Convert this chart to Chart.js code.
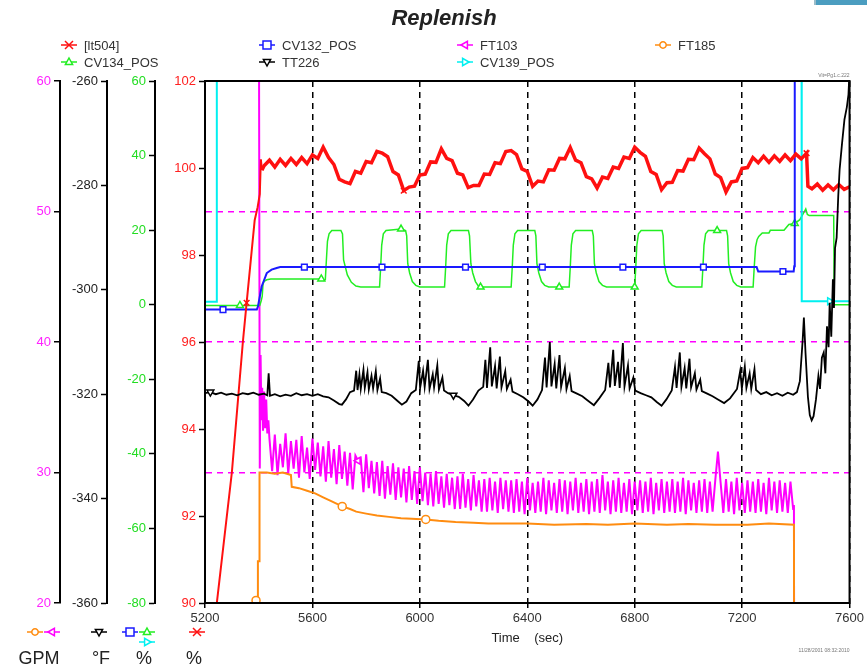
<!DOCTYPE html>
<html>
<head>
<meta charset="utf-8">
<title>Replenish</title>
<script src="https://cdn.jsdelivr.net/npm/chart.js@4.4.1/dist/chart.umd.min.js"></script>
<style>
  html, body { margin: 0; padding: 0; background: #fff; }
  #wrap { position: relative; width: 867px; height: 672px; overflow: hidden; }
  #corner { position: absolute; left: 814px; top: 0; width: 53px; height: 5px; background: #4b9dc0; border-left: 2px solid #9bbcc9; }
</style>
</head>
<body>
<div id="wrap">
  <canvas id="myChart" width="867" height="672"></canvas>
  <div id="corner"></div>
</div>
<script>
// x axis (sec)
const timeMin = 5200;
const timeMax = 7600;
const timeStep = 400;

// [lt504] (%) - ramp up, then samples every 20 s, then the drop at the end
const lt504HeadTime = [5200, 5244, 5300, 5341, 5355, 5385, 5396, 5404, 5408, 5412];
const lt504HeadValue = [87.6, 90.0, 93.0, 96.0, 96.9, 98.8, 99.1, 99.4, 100.2, 99.95];
const lt504SampleStart = 5420;
const lt504SampleStep = 20;
const lt504Samples = [
  100.05, 100.18, 100.02, 100.20, 100.06, 100.22, 100.08, 100.24, 100.10, 100.30,
  100.22, 100.48, 100.24, 100.08, 99.74, 99.68, 99.64, 99.92, 99.88, 100.15,
  100.12, 100.38, 100.34, 100.26, 99.92, 99.84, 99.48, 99.56, 99.58, 99.84,
  99.86, 100.14, 100.13, 100.44, 100.22, 100.17, 99.88, 99.84, 99.55, 99.60,
  99.60, 99.86, 99.85, 100.12, 100.10, 100.38, 100.40, 100.31, 99.98, 99.92,
  99.58, 99.70, 99.68, 99.96, 99.95, 100.22, 100.21, 100.47, 100.18, 100.12,
  99.80, 99.75, 99.54, 99.79, 99.76, 100.02, 99.99, 100.25, 100.22, 100.48,
  100.36, 100.27, 99.92, 99.85, 99.50, 99.66, 99.67, 99.94, 99.93, 100.20,
  100.19, 100.46, 100.33, 100.21, 99.86, 99.78, 99.45, 99.68, 99.70, 99.99,
  100.01, 100.24, 100.12, 100.27, 100.13, 100.28, 100.15, 100.30, 100.17, 100.32,
  100.21, 100.34
];
const lt504TailTime = [7445, 7460, 7480, 7500, 7520, 7540, 7560, 7580, 7600];
const lt504TailValue = [99.58, 99.52, 99.63, 99.49, 99.61, 99.50, 99.62, 99.51, 99.57];
const lt504Marks = [5355, 5940, 7440];
const lt504RampEnd = 5412;

// CV132_POS (%)
const cv132Time = [5200, 5267, 5393, 5397, 5411, 5430, 5448, 5467, 5480, 5570, 5859, 6170, 6456, 6756, 7056, 7254, 7260, 7352, 7392, 7394, 7396, 7600];
const cv132Value = [-1.3, -1.3, -1.3, -0.5, 4.9, 8.5, 9.4, 9.85, 10.1, 10.1, 10.1, 10.1, 10.1, 10.1, 10.1, 10.1, 8.9, 8.9, 8.9, 10.3, 110, 110];
const cv132Marks = [5267, 5570, 5859, 6170, 6456, 6756, 7056, 7352];

// FT103 (GPM) - start, samples every 10 s, end
const ft103HeadTime = [5400, 5404, 5407, 5410, 5413, 5416, 5420, 5424, 5428, 5432, 5436];
const ft103HeadValue = [75, 30.3, 39.0, 34.0, 36.5, 33.2, 36.2, 33.4, 35.6, 33.0, 34.0];
const ft103SampleStart = 5440;
const ft103SampleStep = 10;
const ft103Samples = [
  32.6, 30.1, 32.9, 29.8, 32.2, 30.4, 33.0, 29.9, 32.4, 30.3,
  32.5, 29.6, 32.8, 30.0, 31.9, 29.5, 32.6, 30.2, 32.3, 29.7,
  32.0, 29.3, 32.4, 29.6, 31.8, 29.1, 32.1, 29.5, 31.6, 29.0,
  31.5, 28.7, 31.3, 30.9, 31.1, 28.5, 31.4, 28.8, 30.9, 28.4,
  30.8, 28.2, 30.9, 28.0, 30.5, 28.3, 30.7, 27.9, 30.4, 28.1,
  30.3, 27.7, 30.5, 27.9, 30.1, 27.6, 30.4, 27.8, 30.0, 27.5,
  29.9, 27.4, 30.1, 27.6, 29.7, 27.3, 29.9, 27.5, 29.6, 27.2,
  29.7, 27.2, 29.9, 27.3, 29.5, 27.1, 29.8, 27.4, 29.4, 27.0,
  29.5, 27.0, 29.6, 27.1, 29.3, 26.9, 29.6, 27.2, 29.4, 27.0,
  29.4, 26.9, 29.5, 27.0, 29.3, 26.8, 29.6, 27.1, 29.2, 26.9,
  29.3, 27.0, 29.6, 26.8, 29.4, 27.1, 29.2, 26.9, 29.5, 27.0,
  29.4, 26.8, 29.3, 27.1, 29.6, 26.9, 29.2, 27.0, 29.5, 26.8,
  29.3, 27.0, 29.5, 26.9, 29.8, 27.1, 29.3, 26.8, 29.4, 27.0,
  29.6, 26.9, 29.2, 27.0, 29.5, 26.8, 29.3, 27.1, 29.4, 26.9,
  29.3, 27.0, 29.6, 26.8, 29.2, 27.1, 29.5, 26.9, 29.3, 27.0,
  29.5, 26.9, 29.3, 27.0, 29.6, 26.8, 29.4, 27.1, 29.2, 26.9,
  29.4, 27.0, 29.5, 26.9, 29.3, 27.0, 29.4, 31.6, 29.2, 26.9,
  29.5, 27.0, 29.3, 26.8, 29.6, 27.1, 29.2, 26.9, 29.4, 27.0,
  29.3, 26.9, 29.5, 27.0, 29.2, 26.8, 29.6, 27.1, 29.3, 26.9,
  29.4, 27.0, 29.2, 26.9, 29.3, 27.2
];
const ft103TailTime = [7393, 7394];
const ft103TailValue = [27.5, 10];
const ft103Marks = [5770];

// FT185 (GPM)
const ft185Time = [5390, 5396, 5397, 5402, 5403, 5430, 5460, 5490, 5520, 5523, 5550, 5580, 5610, 5640, 5670, 5711, 5740, 5763, 5800, 5840,
  5885, 5930, 5970, 6022, 6070, 6133, 6200, 6255, 6320, 6400, 6500, 6620, 6700, 6800, 6920, 7000, 7100, 7220, 7300, 7393, 7394];
const ft185Value = [20.2, 20.3, 23.2, 23.2, 30.0, 30.0, 29.9, 30.0, 29.8, 28.9, 28.8, 28.6, 28.4, 28.1, 27.8, 27.4, 27.2, 27.0, 26.85, 26.7,
  26.6, 26.5, 26.45, 26.4, 26.3, 26.2, 26.15, 26.1, 26.1, 26.1, 26.0, 26.05, 26.0, 26.1, 26.0, 26.05, 26.0, 26.0, 26.1, 26.0, 10];
const ft185Marks = [5390, 5711, 6022];

// CV134_POS (%)
const cv134Time = [
  5200, 5330, 5404, 5409, 5413, 5416, 5420, 5430, 5445, 5626, 5633, 5640, 5648,
  5652, 5656, 5662, 5672, 5706, 5712, 5716, 5722, 5730, 5745, 5762, 5780, 5850,
  5854, 5858, 5864, 5874, 5930, 5947, 5951, 5955, 5962, 5972, 5985, 6000, 6092,
  6096, 6100, 6106, 6116, 6181, 6185, 6190, 6197, 6207, 6218, 6226, 6340,
  6344, 6348, 6354, 6364, 6428, 6432, 6436, 6443, 6453, 6465, 6480, 6519, 6556,
  6560, 6564, 6570, 6580, 6642, 6646, 6650, 6657, 6667, 6680, 6695, 6800,
  6804, 6808, 6814, 6824, 6902, 6906, 6910, 6917, 6927, 6940, 6955, 7050,
  7054, 7058, 7064, 7074, 7107, 7142, 7146, 7150, 7157, 7167, 7180, 7195, 7241,
  7245, 7250, 7256, 7262, 7275, 7300, 7305, 7356, 7374, 7396, 7415, 7429, 7437, 7443, 7450, 7541, 7543, 7600
];
const cv134Value = [
  -0.2, -0.2, -0.2, 1.0, 2.2, 5.5, 6.3, 6.7, 6.9, 6.9, 6.9, 6.5, 6.7,
  12.0, 17.0, 19.0, 19.9, 19.9, 19.0, 12.0, 10.3, 8.0, 6.0, 5.0, 4.75, 4.75,
  10.0, 16.0, 19.0, 19.9, 20.3, 19.9, 18.5, 11.0, 8.5, 6.2, 5.2, 4.75, 4.75,
  10.0, 16.0, 19.0, 19.9, 19.9, 18.5, 11.0, 8.5, 6.2, 5.0, 4.75, 4.75,
  10.0, 16.0, 19.0, 19.9, 19.9, 18.5, 11.0, 8.5, 6.2, 5.2, 4.75, 4.75, 4.75,
  10.0, 16.0, 19.0, 19.9, 19.9, 18.5, 11.0, 8.5, 6.2, 5.2, 4.75, 4.75,
  10.0, 16.0, 19.0, 19.9, 19.9, 18.5, 11.0, 8.5, 6.2, 5.2, 4.75, 4.75,
  10.0, 16.0, 19.0, 19.9, 19.9, 19.9, 18.5, 11.0, 8.5, 6.2, 5.2, 4.75, 4.75,
  10.0, 15.5, 17.5, 18.3, 19.25, 19.25, 19.95, 19.95, 21.5, 21.8, 22.8, 24.6, 25.7, 24.2, 23.9, 23.9, 0.0, 0.0
];
const cv134Marks = [5330, 5633, 5930, 6226, 6519, 6800, 7107, 7396];

// TT226 (°F)
const tt226Time = [
  5200, 5220, 5240, 5260, 5280, 5300, 5320, 5340, 5360, 5380, 5400, 5420,
  5432, 5437, 5442, 5460, 5480, 5500, 5520, 5540, 5560, 5580, 5600, 5620, 5640, 5660, 5680, 5700, 5710, 5725, 5740, 5755,
  5763, 5768, 5775, 5780, 5790, 5795, 5805, 5810, 5820, 5826, 5836, 5842, 5852, 5858,
  5875, 5895, 5915, 5933, 5950, 5968, 5985,
  5996, 6001, 6012, 6018, 6030, 6036, 6048, 6053, 6065, 6071, 6084, 6090,
  6105, 6125, 6145, 6165, 6181, 6198, 6218,
  6236, 6244, 6250, 6262, 6268, 6280, 6286, 6298, 6304, 6318, 6324, 6338, 6345,
  6365, 6385, 6405, 6420, 6438, 6455,
  6466, 6472, 6484, 6490, 6502, 6508, 6520, 6526, 6540, 6546, 6558, 6565,
  6585, 6605, 6625, 6648, 6668, 6690,
  6702, 6708, 6720, 6726, 6738, 6744, 6756, 6762, 6775, 6781, 6795, 6802,
  6822, 6842, 6862, 6882, 6900, 6918, 6938,
  6950, 6956, 6968, 6974, 6986, 6992, 7004, 7010, 7024, 7030, 7044, 7050,
  7070, 7090, 7110, 7133, 7155, 7181,
  7193, 7199, 7210, 7216, 7228, 7234, 7246, 7252,
  7270, 7290, 7310, 7330, 7350, 7370, 7390, 7404,
  7415, 7425, 7430, 7436, 7445, 7452, 7459, 7466, 7475, 7484, 7490, 7497, 7504, 7510, 7516,
  7522, 7526, 7532, 7538, 7542, 7546, 7552, 7558, 7563, 7572, 7581, 7590, 7596, 7600
];
const tt226Value = [
  -319.8, -319.6, -320.0, -319.7, -320.1, -319.9, -320.2, -319.8, -320.0, -319.7, -320.1, -319.9,
  -320.2, -316.0, -320.3, -320.0, -320.4, -320.1, -320.3, -319.8, -320.2, -320.0, -320.3, -320.0, -320.4, -320.6, -321.2, -321.9, -322.0, -321.0, -319.6, -319.3,
  -315.5, -319.2, -316.2, -319.0, -315.3, -318.8, -315.8, -319.1, -316.5, -318.9, -315.6, -319.2, -317.0, -319.6,
  -319.8, -320.3, -321.2, -322.0, -321.4, -319.8, -319.2,
  -313.6, -318.8, -315.5, -318.6, -313.4, -319.0, -316.2, -318.7, -314.5, -319.1, -316.8, -319.3,
  -319.8, -320.2, -320.5, -321.3, -322.2, -321.0, -319.3,
  -318.6, -313.4, -318.8, -311.0, -318.5, -314.6, -318.9, -312.8, -318.7, -315.6, -319.0, -317.2, -319.5,
  -320.0, -320.6, -321.4, -322.2, -321.0, -319.2,
  -313.0, -318.7, -310.0, -318.5, -314.2, -318.9, -312.5, -318.6, -315.0, -319.0, -316.5, -319.4,
  -319.9, -320.4, -321.2, -322.1, -320.8, -319.2,
  -314.0, -318.7, -311.5, -318.4, -313.8, -318.8, -310.2, -318.5, -314.5, -318.9, -316.8, -319.3,
  -319.8, -320.2, -320.6, -321.5, -322.2, -321.0, -319.3,
  -314.8, -318.8, -312.0, -318.6, -315.0, -318.9, -313.2, -318.7, -316.0, -319.1, -317.2, -319.4,
  -319.9, -320.4, -321.0, -321.7, -320.8, -319.0,
  -315.5, -318.9, -314.7, -318.8, -316.0, -319.0, -315.2, -319.2,
  -320.0, -319.6, -320.2, -319.8, -320.3, -319.7, -320.1, -319.6,
  -317.5, -310.0, -305.3, -312.0, -320.5, -324.0, -325.0, -324.2, -321.0, -316.5, -319.0, -313.0, -312.0, -316.0, -307.0,
  -311.0, -302.5, -309.0, -298.0, -303.5, -292.0, -290.0, -282.0, -277.0, -272.0, -267.4, -265.0, -262.6, -258.0
];
const tt226Marks = [5220, 6125];

// CV139_POS (%)
const cv139Time = [5200, 5243, 5244, 7421, 7422, 7526, 7600];
const cv139Value = [0.8, 0.8, 110, 110, 0.9, 0.9, 0.9];
const cv139Marks = [7526];

function toPoints(times, values) {
    return times.map((t, i) => ({ x: t, y: values[i] }));
}

function sampled(start, step, values) {
    return values.map((v, i) => ({ x: start + i * step, y: v }));
}

function series(label, points, color, axis, style, rotation, marks, width, order) {
    return {
        label: label,
        data: points,
        yAxisID: axis,
        borderColor: color,
        backgroundColor: color,
        borderWidth: width,
        order: order,
        fill: false,
        tension: 0,
        pointStyle: style,
        pointRotation: rotation,
        pointRadius: ctx => (ctx.raw && marks.includes(ctx.raw.x)) ? 4 : 0,
        pointBorderColor: color,
        pointBackgroundColor: '#fff',
        pointBorderWidth: 1.5
    };
}

const lt504Points = toPoints(lt504HeadTime, lt504HeadValue)
    .concat(sampled(lt504SampleStart, lt504SampleStep, lt504Samples))
    .concat(toPoints(lt504TailTime, lt504TailValue));
const ft103Points = toPoints(ft103HeadTime, ft103HeadValue)
    .concat(sampled(ft103SampleStart, ft103SampleStep, ft103Samples))
    .concat(toPoints(ft103TailTime, ft103TailValue));

const lt504Set = series('[lt504]', lt504Points, '#ff1010', 'yRed', 'crossRot', 0, lt504Marks, 3.5, 2);
// the ramp is a thin line, the noisy part is a thick band
lt504Set.segment = { borderWidth: seg => seg.p1.parsed.x <= lt504RampEnd ? 2 : undefined };

// legend order: two rows of four
const datasets = [
    lt504Set,
    series('CV132_POS', toPoints(cv132Time, cv132Value), '#1a1aff', 'yPct', 'rect', 0, cv132Marks, 2, 3),
    series('FT103', ft103Points, '#ff00ff', 'yGpm', 'triangle', -90, ft103Marks, 2, 7),
    series('FT185', toPoints(ft185Time, ft185Value), '#ff8c10', 'yGpm', 'circle', 0, ft185Marks, 2, 6),
    series('CV134_POS', toPoints(cv134Time, cv134Value), '#22ee22', 'yPct', 'triangle', 0, cv134Marks, 1.5, 5),
    series('TT226', toPoints(tt226Time, tt226Value), '#000000', 'yTemp', 'triangle', 180, tt226Marks, 1.8, 1),
    series('CV139_POS', toPoints(cv139Time, cv139Value), '#00f0f0', 'yPct', 'triangle', 90, cv139Marks, 2, 4)
];

// units under the left axes
const axisUnits = [
    { axis: 'yGpm', unit: 'GPM', dx: -21, sets: ['FT103', 'FT185'], below: [] },
    { axis: 'yTemp', unit: '\u00B0F', dx: -6, sets: ['TT226'], below: [] },
    { axis: 'yPct', unit: '%', dx: -11, sets: ['CV134_POS', 'CV132_POS'], below: ['CV139_POS'] },
    { axis: 'yRed', unit: '%', dx: -11, sets: ['[lt504]'], below: [] }
];

const FONT = "'Liberation Sans', Arial, sans-serif";

function drawMark(ctx, style, rotation, x, y, r, color) {
    ctx.save();
    ctx.translate(x, y);
    ctx.rotate(rotation * Math.PI / 180);
    ctx.strokeStyle = color;
    ctx.fillStyle = '#fff';
    ctx.lineWidth = 1.5;
    ctx.beginPath();
    if (style === 'rect') {
        ctx.rect(-r, -r, 2 * r, 2 * r);
        ctx.fill();
    } else if (style === 'circle') {
        ctx.arc(0, 0, r * 0.8, 0, Math.PI * 2);
        ctx.fill();
    } else if (style === 'triangle') {
        ctx.moveTo(0, -r);
        ctx.lineTo(r * 0.9, r * 0.6);
        ctx.lineTo(-r * 0.9, r * 0.6);
        ctx.closePath();
        ctx.fill();
    } else {
        ctx.moveTo(-r, -r); ctx.lineTo(r, r);
        ctx.moveTo(r, -r); ctx.lineTo(-r, r);
    }
    ctx.stroke();
    ctx.restore();
}

function drawSymbol(ctx, ds, x, y) {
    ctx.save();
    ctx.strokeStyle = ds.borderColor;
    ctx.lineWidth = 1.5;
    ctx.beginPath();
    ctx.moveTo(x, y);
    ctx.lineTo(x + 16, y);
    ctx.stroke();
    ctx.restore();
    drawMark(ctx, ds.pointStyle, ds.pointRotation, x + 8, y, 4, ds.borderColor);
}

const decorPlugin = {
    id: 'decor',
    afterDraw(chart) {
        const ctx = chart.ctx;
        const area = chart.chartArea;
        const sets = chart.data.datasets;

        // frame
        ctx.save();
        ctx.strokeStyle = '#000';
        ctx.lineWidth = 2;
        ctx.strokeRect(area.left, area.top, area.right - area.left, area.bottom - area.top);
        ctx.restore();

        // title
        ctx.save();
        ctx.fillStyle = '#222';
        ctx.font = 'italic bold 22px ' + FONT;
        ctx.textAlign = 'center';
        ctx.textBaseline = 'alphabetic';
        ctx.fillText('Replenish', 444, 25);
        ctx.restore();

        // legend, 4 columns
        ctx.save();
        ctx.font = '13px ' + FONT;
        ctx.fillStyle = '#333';
        ctx.textBaseline = 'middle';
        ctx.textAlign = 'left';
        sets.forEach((ds, i) => {
            const x = 61 + (i % 4) * 198;
            const y = 45 + Math.floor(i / 4) * 17;
            drawSymbol(ctx, ds, x, y);
            ctx.fillText(ds.label, x + 23, y + 1);
        });
        ctx.restore();

        // unit symbols and unit names under each axis
        axisUnits.forEach(u => {
            const scale = chart.scales[u.axis];
            const right = scale.right;
            u.sets.forEach((name, k) => {
                const ds = sets.find(d => d.label === name);
                drawSymbol(ctx, ds, right - 16 - k * 17, 632);
            });
            u.below.forEach((name, k) => {
                const ds = sets.find(d => d.label === name);
                drawSymbol(ctx, ds, right - 16 - k * 17, 642);
            });
            ctx.save();
            ctx.fillStyle = '#222';
            ctx.font = '18px ' + FONT;
            ctx.textAlign = 'center';
            ctx.textBaseline = 'alphabetic';
            ctx.fillText(u.unit, right + u.dx, 664);
            ctx.restore();
        });

        // small stamps
        ctx.save();
        ctx.fillStyle = '#777';
        ctx.font = '5px ' + FONT;
        ctx.textAlign = 'right';
        ctx.fillText('Vit=Pg1.c.222', area.right, area.top - 4);
        ctx.fillText('11/28/2001 08:32:2010', area.right, 652);
        ctx.restore();
    }
};

function leftAxis(min, max, step, color, width, weight, extra) {
    const axis = {
        type: 'linear',
        position: 'left',
        weight: weight,
        min: min,
        max: max,
        afterFit: scale => { scale.width = width; },
        ticks: {
            stepSize: step,
            autoSkip: false,
            color: color,
            padding: 3,
            font: { family: FONT, size: 13 },
            callback: v => String(v)
        },
        grid: { drawOnChartArea: false, tickLength: 6, tickColor: '#000', tickWidth: 1.5 },
        border: { color: '#000', width: 2 }
    };
    return Object.assign(axis, extra || {});
}

const ctx = document.getElementById('myChart').getContext('2d');
new Chart(ctx, {
    type: 'line',
    data: { datasets: datasets },
    plugins: [decorPlugin],
    options: {
        responsive: false,
        devicePixelRatio: 1,
        animation: false,
        events: [],
        layout: { padding: { left: 5, right: 15, top: 81, bottom: 24 } },
        plugins: {
            legend: { display: false },
            title: { display: false },
            tooltip: { enabled: false }
        },
        scales: {
            x: {
                type: 'linear',
                position: 'bottom',
                min: timeMin,
                max: timeMax,
                afterFit: scale => { scale.height = 45; },
                ticks: {
                    stepSize: timeStep,
                    autoSkip: false,
                    maxRotation: 0,
                    color: '#333',
                    padding: 3,
                    font: { family: FONT, size: 13 },
                    callback: v => String(v)
                },
                grid: { color: '#000', lineWidth: 1.5, tickLength: 5, tickColor: '#000', tickWidth: 1.5 },
                border: { color: '#000', width: 2, dash: [6, 5] },
                title: {
                    display: true,
                    text: 'Time    (sec)',
                    color: '#222',
                    font: { family: FONT, size: 13 },
                    padding: { top: 2, bottom: 2 }
                }
            },
            yRed: leftAxis(90, 102, 2, '#ff2020', 50, 0),
            yPct: leftAxis(-80, 60, 20, '#22dd22', 48, 1),
            yTemp: leftAxis(-360, -260, 20, '#222', 47, 2),
            yGpm: leftAxis(20, 60, 10, '#ff22ff', 55, 3, {
                grid: { drawOnChartArea: true, color: '#ff00ff', lineWidth: 1.5, tickLength: 6, tickColor: '#000', tickWidth: 1.5 },
                border: { color: '#000', width: 2, dash: [6, 5] }
            })
        }
    }
});
</script>
</body>
</html>
